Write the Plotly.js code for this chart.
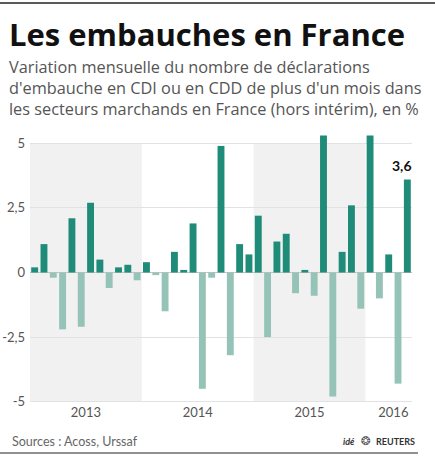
<!DOCTYPE html>
<html>
<head>
<meta charset="utf-8">
<script src="https://cdn.plot.ly/plotly-3.0.1.min.js"></script>
<style>
  html, body { margin: 0; padding: 0; background: #ffffff; }
  #chart { width: 435px; height: 458px; }
</style>
</head>
<body>
<div id="chart"></div>
<script>
// Monthly change in hiring declarations (CDI / CDD > 1 month), %, Jan 2013 – May 2016
const years = ['2013', '2014', '2015', '2016'];
const monthsPerYear = [12, 12, 12, 5];

const variation = [
  // 2013
  0.2, 1.1, -0.2, -2.2, 2.1, -2.1, 2.7, 0.5, -0.6, 0.2, 0.3, -0.3,
  // 2014
  0.4, -0.1, -1.5, 0.8, 0.1, 1.9, -4.5, -0.2, 4.9, -3.2, 1.1, 0.7,
  // 2015
  2.2, -2.5, 1.2, 1.5, -0.8, 0.1, -0.9, 5.3, -4.8, 0.8, 2.6, -1.4,
  // 2016
  5.3, -1.0, 0.7, -4.3, 3.6
];

const yTickVals = [-5, -2.5, 0, 2.5, 5];
const yTickText = ['-5', '-2,5', '0', '2,5', '5'];

const titleText = 'Les embauches en France';
const subtitleLines = [
  'Variation mensuelle du nombre de déclarations',
  'd\'embauche en CDI ou en CDD de plus d\'un mois dans',
  'les secteurs marchands en France (hors intérim), en %'
];

const monthNames = ['janv.', 'févr.', 'mars', 'avr.', 'mai', 'juin',
                    'juil.', 'août', 'sept.', 'oct.', 'nov.', 'déc.'];

// month labels (hover only) and positional index for each bar
const labels = [];
years.forEach((y, k) => {
  for (let m = 0; m < monthsPerYear[k]; m++) labels.push(monthNames[m] + ' ' + y);
});
const idx = variation.map((_, i) => i);

const POS = '#1f8b79';
const NEG = '#95c3b7';

// year start indices, for the alternating background bands
const yearStart = [];
let acc = 0;
monthsPerYear.forEach(n => { yearStart.push(acc); acc += n; });
const yearTicks = [5.5, 17.5, 29.5, 38.5];

const bands = [];
years.forEach((y, k) => {
  if (k % 2 === 0 && k < 3) {
    bands.push({
      type: 'rect', xref: 'x', yref: 'y', layer: 'below',
      x0: yearStart[k] - 0.5, x1: yearStart[k] + monthsPerYear[k] - 0.5,
      y0: -5, y1: 5,
      fillcolor: '#f1f1f1', line: { width: 0 }
    });
  }
});

// plot area: x 30..412 px, y 133..403 px
const L = 30, R = 412, T = 133, B = 403;
const px = x => (x - L) / (R - L);
const py = y => (B - y) / (B - T);

const rules = [
  { type: 'line', xref: 'paper', yref: 'paper', x0: px(0), x1: px(435), y0: py(3), y1: py(3),
    line: { color: '#5a5a5a', width: 2 } },
  { type: 'line', xref: 'paper', yref: 'paper', x0: px(0), x1: px(418), y0: py(453), y1: py(453),
    line: { color: '#222222', width: 1 } }
];

const last = variation.length - 1;

const trace = {
  type: 'bar',
  x: idx,
  y: variation,
  hovertext: labels,
  hoverinfo: 'text+y',
  textposition: 'none',
  width: 0.74,
  marker: { color: variation.map(v => v >= 0 ? POS : NEG), line: { width: 0 } }
};

const layout = {
  width: 435,
  height: 458,
  margin: { l: L, r: 435 - R, t: T, b: 458 - B },
  paper_bgcolor: '#ffffff',
  plot_bgcolor: '#ffffff',
  showlegend: false,
  font: { family: 'Lato, "Open Sans", sans-serif', color: '#555555' },
  xaxis: {
    range: [-0.5, 40.5],
    tickvals: yearTicks,
    ticktext: years,
    ticks: '',
    showgrid: false,
    zeroline: false,
    showline: false,
    tickfont: { size: 13, color: '#555555' },
    fixedrange: true
  },
  yaxis: {
    range: [-5.05, 5.4],
    tickvals: yTickVals,
    ticktext: yTickText,
    ticks: '',
    showgrid: true,
    gridcolor: '#e2e2e2',
    gridwidth: 1,
    zeroline: true,
    zerolinecolor: '#c4c4c4',
    zerolinewidth: 1,
    showline: false,
    tickfont: { size: 13, color: '#555555' },
    ticklabelstandoff: 4,
    fixedrange: true
  },
  shapes: bands.concat(rules),
  annotations: [
    {
      xref: 'paper', yref: 'paper', x: px(8), y: py(12), xanchor: 'left', yanchor: 'top',
      borderpad: 0, showarrow: false,
      text: '<b>' + titleText + '</b>',
      font: { family: '"Open Sans", sans-serif', size: 31, color: '#111111' }
    },
    {
      xref: 'paper', yref: 'paper', x: px(8), y: py(54.8), xanchor: 'left', yanchor: 'top',
      borderpad: 0, align: 'left', showarrow: false,
      text: subtitleLines.join('<br>'),
      font: { family: '"Open Sans", sans-serif', size: 16.3, color: '#555555' }
    },
    {
      xref: 'x', yref: 'y', x: last, y: variation[last],
      xanchor: 'right', yanchor: 'bottom', xshift: 7, yshift: 4,
      showarrow: false,
      text: '<b>' + variation[last].toFixed(1).replace('.', ',') + '</b>',
      font: { size: 14, color: '#111111' }
    },
    {
      xref: 'paper', yref: 'paper', x: px(10), y: py(441), xanchor: 'left', yanchor: 'middle',
      showarrow: false, text: 'Sources : Acoss, Urssaf',
      font: { size: 12.5, color: '#666666' }
    },
    {
      xref: 'paper', yref: 'paper', x: px(357), y: py(441), xanchor: 'right', yanchor: 'middle',
      showarrow: false, text: '<b><i>idé</i></b>',
      font: { size: 9, color: '#333333' }
    },
    {
      xref: 'paper', yref: 'paper', x: px(366), y: py(441), xanchor: 'center', yanchor: 'middle',
      showarrow: false, text: '❂',
      font: { family: 'DejaVu Sans', size: 12, color: '#555555' }
    },
    {
      xref: 'paper', yref: 'paper', x: px(374), y: py(441), xanchor: 'left', yanchor: 'middle',
      showarrow: false, text: '<b>REUTERS</b>',
      font: { size: 9, color: '#333333' }
    }
  ]
};

Plotly.newPlot('chart', [trace], layout, { displayModeBar: false, staticPlot: true });
</script>
</body>
</html>
